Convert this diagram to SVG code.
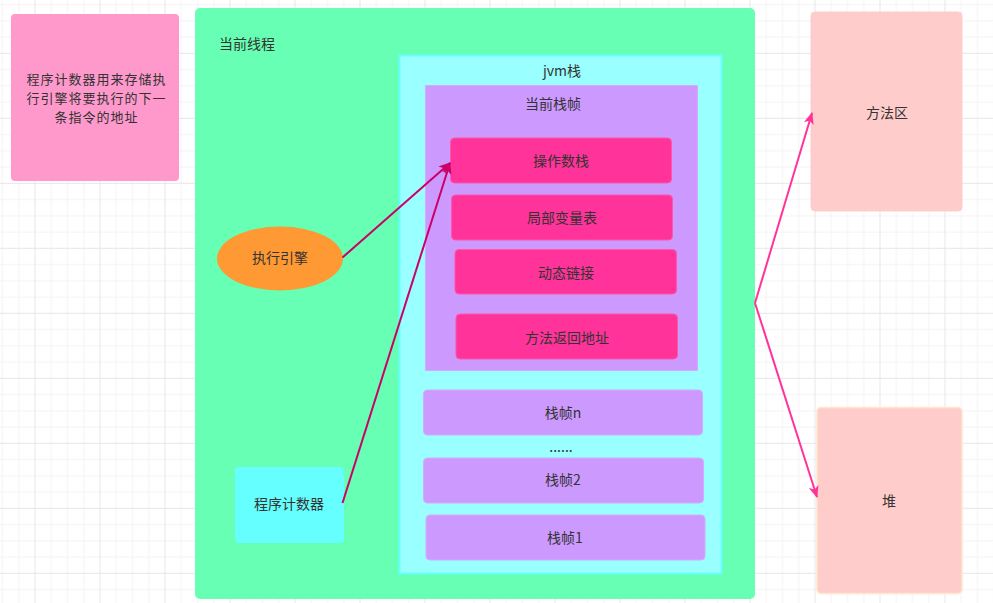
<svg xmlns="http://www.w3.org/2000/svg" width="993" height="603" viewBox="0 0 993 603">
<style>
text{font-family:"Noto Sans CJK SC","Noto Sans",sans-serif;font-size:14px;fill:#333333;text-anchor:middle;dominant-baseline:central}
.note{font-size:13px;letter-spacing:1px}
.frame{fill:#CC99FF;stroke:#D4AAFF;stroke-width:1}
.pk{fill:#FF3399;stroke:#FF55AA;stroke-width:1}
.e1{fill:none;stroke:#CC0066;stroke-width:2}
.e2{fill:none;stroke:#FF3399;stroke-width:2}
</style>
<defs>
<pattern id="grid" width="65" height="65" patternUnits="userSpaceOnUse" x="34.5" y="52.8">
<path d="M16.75 0V65M33 0V65M49.25 0V65M0 16.75H65M0 33H65M0 49.25H65" stroke="#F3F3F3" stroke-width="1" fill="none"/>
<path d="M0.5 0V65M0 0.5H65" stroke="#E6E6E6" stroke-width="1" fill="none"/>
</pattern>
<marker id="a1" viewBox="0 0 12 10" refX="11" refY="5" markerWidth="12" markerHeight="10" markerUnits="userSpaceOnUse" orient="auto">
<path d="M0 0L12 5L0 10L3 5Z" fill="#CC0066"/>
</marker>
<marker id="a2" viewBox="0 0 12 10" refX="11" refY="5" markerWidth="12" markerHeight="10" markerUnits="userSpaceOnUse" orient="auto">
<path d="M0 0L12 5L0 10L3 5Z" fill="#FF3399"/>
</marker>
</defs>
<rect width="993" height="603" fill="#FFFFFF"/>
<rect width="993" height="603" fill="url(#grid)"/>

<g id="pc-note">
<rect x="11" y="14" width="168" height="167" rx="4" fill="#FF99CC"/>
<text class="note" x="96.5" y="78.5">程序计数器用来存储执</text>
<text class="note" x="96.5" y="97.5">行引擎将要执行的下一</text>
<text class="note" x="96.5" y="116.5">条指令的地址</text>
</g>

<g id="thread">
<rect x="195" y="8" width="560" height="591" rx="5" fill="#66FFB3"/>
<text x="247" y="43">当前线程</text>
</g>

<g id="jvm-stack">
<rect x="399.5" y="55.5" width="322" height="518" fill="#99FFFF" stroke="#66FFFF" stroke-width="2"/>
<text x="562" y="70">jvm栈</text>
</g>

<g id="current-frame">
<rect x="425.5" y="85.5" width="272" height="285" fill="#CC99FF" stroke="#D4AAFF" stroke-width="1"/>
<text x="553" y="103">当前栈帧</text>
</g>

<g id="operand-stack">
<rect class="pk" x="450.5" y="138" width="221" height="45" rx="4"/>
<text x="561" y="160">操作数栈</text>
</g>
<g id="local-vars">
<rect class="pk" x="451.5" y="195" width="221" height="45" rx="4"/>
<text x="562" y="217">局部变量表</text>
</g>
<g id="dynamic-link">
<rect class="pk" x="455" y="249.5" width="221.5" height="44.5" rx="4"/>
<text x="566" y="272">动态链接</text>
</g>
<g id="return-addr">
<rect class="pk" x="456" y="314" width="221.5" height="45" rx="4"/>
<text x="567" y="337">方法返回地址</text>
</g>

<g id="frame-n">
<rect class="frame" x="423.5" y="390" width="279" height="45" rx="4"/>
<text x="563" y="412">栈帧n</text>
</g>
<text x="561" y="446">......</text>
<g id="frame-2">
<rect class="frame" x="423.5" y="458" width="280" height="45" rx="4"/>
<text x="563" y="479">栈帧2</text>
</g>
<g id="frame-1">
<rect class="frame" x="426" y="515" width="279" height="45" rx="4"/>
<text x="565" y="537">栈帧1</text>
</g>

<g id="exec-engine">
<ellipse cx="280" cy="258.5" rx="63" ry="32" fill="#FF9933"/>
<text x="280" y="257">执行引擎</text>
</g>

<g id="pc-register">
<rect x="235" y="467" width="109" height="76" rx="4" fill="#66FFFF"/>
<text x="289" y="503">程序计数器</text>
</g>

<g id="method-area">
<rect x="811" y="12" width="151" height="199" rx="4" fill="#FFCCCC" stroke="#FFCCCC"/>
<text x="887" y="112">方法区</text>
</g>

<g id="heap">
<rect x="817" y="407.5" width="145" height="186" rx="4" fill="#FFCCCC" stroke="#FFE6CC" stroke-width="1.5"/>
<text x="889" y="500">堆</text>
</g>

<g id="connectors">
<path class="e1" d="M342.5 257.5L450 163" marker-end="url(#a1)"/>
<path class="e1" d="M342.5 503L450 163" marker-end="url(#a1)"/>
<path class="e2" d="M755 303L812 113" marker-end="url(#a2)"/>
<path class="e2" d="M755 303L817 497" marker-end="url(#a2)"/>
</g>
</svg>
